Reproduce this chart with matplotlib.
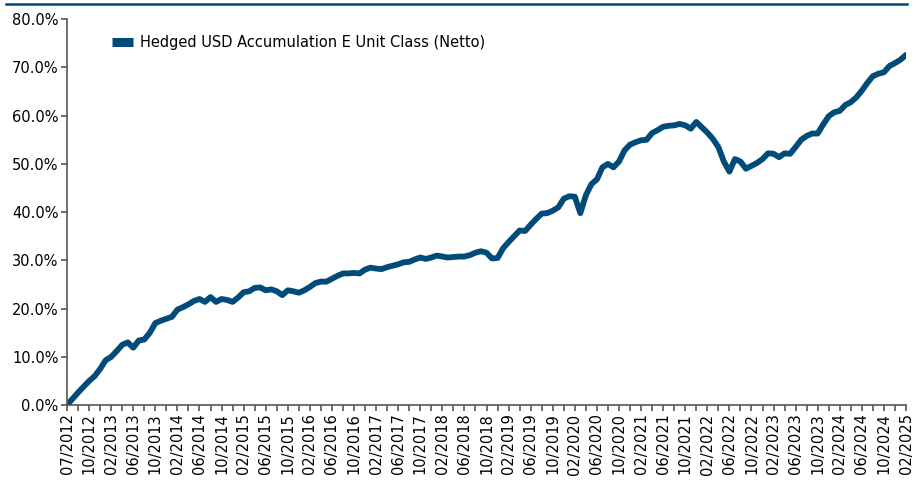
import matplotlib
matplotlib.use("Agg")
import matplotlib.pyplot as plt
from matplotlib.lines import Line2D

# -------------------------------
# Datos (rentabilidad acumulada, %)
# -------------------------------
serie_nombre = "Hedged USD Accumulation E Unit Class (Netto)"

valores = [
    0.0, 1.3, 2.6, 3.8, 5.0, 6.0, 7.5, 9.3, 10.0, 11.2,
    12.5, 13.0, 11.9, 13.4, 13.6, 15.0, 17.0, 17.5, 17.9, 18.3,
    19.8, 20.3, 20.9, 21.6, 22.0, 21.4, 22.4, 21.4, 22.0, 21.8,
    21.4, 22.3, 23.4, 23.6, 24.3, 24.4, 23.8, 24.0, 23.6, 22.8,
    23.8, 23.6, 23.3, 23.8, 24.5, 25.3, 25.6, 25.6, 26.2, 26.8,
    27.3, 27.3, 27.4, 27.3, 28.1, 28.5, 28.3, 28.2, 28.6, 28.9,
    29.2, 29.6, 29.7, 30.2, 30.6, 30.3, 30.6, 31.0, 30.8, 30.6,
    30.7, 30.8, 30.8, 31.1, 31.6, 31.9, 31.6, 30.4, 30.5, 32.5,
    33.8, 35.0, 36.2, 36.1, 37.4, 38.6, 39.7, 39.8, 40.3, 41.0,
    42.8, 43.3, 43.2, 39.8, 43.5, 45.8, 46.8, 49.3, 50.0, 49.3,
    50.5, 52.8, 54.0, 54.5, 54.9, 55.0, 56.4, 57.0, 57.7, 57.9,
    58.0, 58.3, 58.0, 57.3, 58.7, 57.6, 56.5, 55.2, 53.5, 50.5,
    48.4, 51.0, 50.5, 49.0, 49.6, 50.2, 51.0, 52.2, 52.1, 51.4,
    52.2, 52.1, 53.5, 55.0, 55.8, 56.3, 56.3, 58.2, 59.9, 60.7,
    61.0, 62.2, 62.8, 63.8, 65.2, 66.8, 68.2, 68.7, 69.0, 70.3,
    70.9, 71.6, 72.6,
]

etiquetas_x = [
    "07/2012", "10/2012", "02/2013", "06/2013", "10/2013", "02/2014",
    "06/2014", "10/2014", "02/2015", "06/2015", "10/2015", "02/2016",
    "06/2016", "10/2016", "02/2017", "06/2017", "10/2017", "02/2018",
    "06/2018", "10/2018", "02/2019", "06/2019", "10/2019", "02/2020",
    "06/2020", "10/2020", "02/2021", "06/2021", "10/2021", "02/2022",
    "06/2022", "10/2022", "02/2023", "06/2023", "10/2023", "02/2024",
    "06/2024", "10/2024", "02/2025",
]

ticks_y = [0, 10, 20, 30, 40, 50, 60, 70, 80]

azul = "#004b78"
gris = "#5c5452"

# -------------------------------
# Figura
# -------------------------------
fig = plt.figure(figsize=(9.23, 4.8), dpi=100)
ax = fig.add_axes([0.0726, 0.156, 0.909, 0.804])

x = list(range(len(valores)))
ax.plot(x, valores, color=azul, linewidth=4.2, solid_joinstyle="round",
        solid_capstyle="round")

ax.set_xlim(0, len(valores) - 1)
ax.set_ylim(0, 80)

ax.set_yticks(ticks_y)
ax.set_yticklabels([f"{v:.1f}%" for v in ticks_y], fontsize=10.5)

# marcas cada 2 puntos, etiquetas cada 4
ax.set_xticks(list(range(0, len(valores), 2)), minor=True)
ax.set_xticks(list(range(0, len(valores), 4)))
ax.set_xticklabels(etiquetas_x, rotation=90, fontsize=10.5)

for lado in ["top", "right"]:
    ax.spines[lado].set_visible(False)
for lado in ["left", "bottom"]:
    ax.spines[lado].set_color(gris)
    ax.spines[lado].set_linewidth(1.2)

ax.tick_params(axis="both", which="both", color=gris, width=1.2, length=4,
               direction="out", pad=2)
ax.tick_params(axis="x", which="minor", length=4)

# leyenda
handle = Line2D([], [], color=azul, linewidth=6.5, solid_capstyle="butt")
ax.legend([handle], [serie_nombre], loc="upper left",
          bbox_to_anchor=(0.038, 0.992), frameon=False, fontsize=10.5,
          handlelength=1.45, handletextpad=0.45)

# línea superior
fig.add_artist(Line2D([0.0065, 0.983], [0.991, 0.991], color=azul,
                      linewidth=1.8, transform=fig.transFigure))

fig.savefig("out.png", dpi=100)
